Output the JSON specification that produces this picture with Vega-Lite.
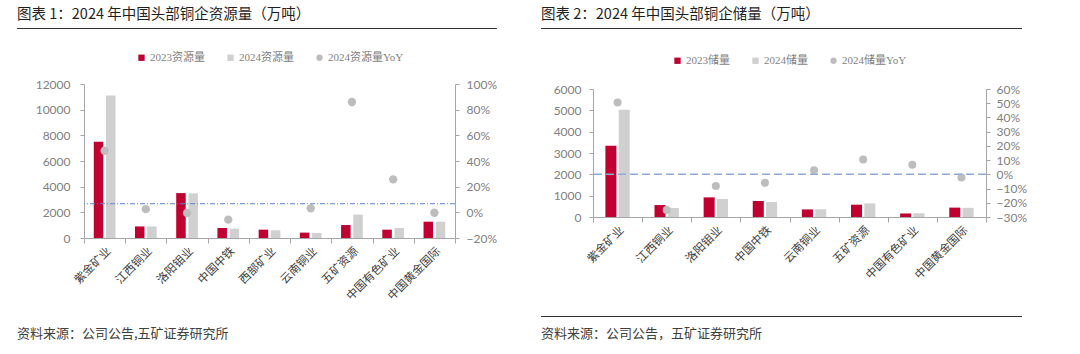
{
  "$schema": "https://vega.github.io/schema/vega-lite/v6.json",
  "background": "white",
  "padding": {"left": 17, "top": 7, "right": 0, "bottom": 0},
  "datasets": {
    "resources": [
      {"公司": "紫金矿业", "系列": "2023资源量", "值": 7500},
      {"公司": "紫金矿业", "系列": "2024资源量", "值": 11100},
      {"公司": "紫金矿业", "系列": "2024资源量YoY", "值": 0.48},
      {"公司": "江西铜业", "系列": "2023资源量", "值": 900},
      {"公司": "江西铜业", "系列": "2024资源量", "值": 900},
      {"公司": "江西铜业", "系列": "2024资源量YoY", "值": 0.025},
      {"公司": "洛阳钼业", "系列": "2023资源量", "值": 3500},
      {"公司": "洛阳钼业", "系列": "2024资源量", "值": 3480},
      {"公司": "洛阳钼业", "系列": "2024资源量YoY", "值": -0.005},
      {"公司": "中国中铁", "系列": "2023资源量", "值": 780},
      {"公司": "中国中铁", "系列": "2024资源量", "值": 730},
      {"公司": "中国中铁", "系列": "2024资源量YoY", "值": -0.057},
      {"公司": "西部矿业", "系列": "2023资源量", "值": 650},
      {"公司": "西部矿业", "系列": "2024资源量", "值": 600},
      {"公司": "云南铜业", "系列": "2023资源量", "值": 420},
      {"公司": "云南铜业", "系列": "2024资源量", "值": 390},
      {"公司": "云南铜业", "系列": "2024资源量YoY", "值": 0.031},
      {"公司": "五矿资源", "系列": "2023资源量", "值": 1010},
      {"公司": "五矿资源", "系列": "2024资源量", "值": 1820},
      {"公司": "五矿资源", "系列": "2024资源量YoY", "值": 0.86},
      {"公司": "中国有色矿业", "系列": "2023资源量", "值": 650},
      {"公司": "中国有色矿业", "系列": "2024资源量", "值": 780},
      {"公司": "中国有色矿业", "系列": "2024资源量YoY", "值": 0.257},
      {"公司": "中国黄金国际", "系列": "2023资源量", "值": 1270},
      {"公司": "中国黄金国际", "系列": "2024资源量", "值": 1270},
      {"公司": "中国黄金国际", "系列": "2024资源量YoY", "值": -0.003}
    ],
    "reserves": [
      {"公司": "紫金矿业", "系列": "2023储量", "值": 3340},
      {"公司": "紫金矿业", "系列": "2024储量", "值": 5030},
      {"公司": "紫金矿业", "系列": "2024储量YoY", "值": 0.505},
      {"公司": "江西铜业", "系列": "2023储量", "值": 560},
      {"公司": "江西铜业", "系列": "2024储量", "值": 420},
      {"公司": "江西铜业", "系列": "2024储量YoY", "值": -0.25},
      {"公司": "洛阳钼业", "系列": "2023储量", "值": 920},
      {"公司": "洛阳钼业", "系列": "2024储量", "值": 845},
      {"公司": "洛阳钼业", "系列": "2024储量YoY", "值": -0.082},
      {"公司": "中国中铁", "系列": "2023储量", "值": 750},
      {"公司": "中国中铁", "系列": "2024储量", "值": 705},
      {"公司": "中国中铁", "系列": "2024储量YoY", "值": -0.06},
      {"公司": "云南铜业", "系列": "2023储量", "值": 355},
      {"公司": "云南铜业", "系列": "2024储量", "值": 365},
      {"公司": "云南铜业", "系列": "2024储量YoY", "值": 0.028},
      {"公司": "五矿资源", "系列": "2023储量", "值": 577},
      {"公司": "五矿资源", "系列": "2024储量", "值": 638},
      {"公司": "五矿资源", "系列": "2024储量YoY", "值": 0.105},
      {"公司": "中国有色矿业", "系列": "2023储量", "值": 165},
      {"公司": "中国有色矿业", "系列": "2024储量", "值": 176},
      {"公司": "中国有色矿业", "系列": "2024储量YoY", "值": 0.068},
      {"公司": "中国黄金国际", "系列": "2023储量", "值": 440},
      {"公司": "中国黄金国际", "系列": "2024储量", "值": 430},
      {"公司": "中国黄金国际", "系列": "2024储量YoY", "值": -0.023}
    ],
    "refLeft": [{"参考线": 0.067}],
    "refRight": [{"参考线": 0}]
  },
  "config": {
    "font": "Noto Sans CJK SC",
    "view": {"stroke": null},
    "axis": {
      "grid": false,
      "domainColor": "#A6A6A6",
      "tickColor": "#A6A6A6",
      "labelColor": "#808080",
      "labelFont": "Lato",
      "labelFontSize": 12,
      "labelOverlap": false,
      "title": null
    },
    "legend": {
      "orient": "top",
      "direction": "horizontal",
      "title": null,
      "labelFont": "'Liberation Serif', 'Noto Sans CJK SC'",
      "labelFontSize": 11,
      "labelColor": "#7F7F7F",
      "symbolSize": 40,
      "columnPadding": 20,
      "labelOffset": 3,
      "padding": 0,
      "layout": {"top": {"anchor": "middle"}}
    },
    "title": {"font": "Noto Sans CJK SC", "fontWeight": "normal"}
  },
  "spacing": 44,
  "resolve": {
    "scale": {"x": "independent", "y": "independent", "color": "independent", "shape": "independent", "xOffset": "independent"},
    "legend": {"color": "independent", "shape": "independent"}
  },
  "hconcat": [
    {
      "spacing": 18,
      "resolve": {
        "scale": {"x": "independent", "y": "independent", "color": "independent", "shape": "independent", "xOffset": "independent"},
        "legend": {"color": "independent", "shape": "independent"}
      },
      "vconcat": [
        {
          "width": 480, "height": 1,
          "data": {"values": [{}]},
          "mark": {"type": "text"},
          "encoding": {"text": {"value": ""}},
          "view": {"stroke": null, "fill": "#333333"},
          "title": {"text": "图表 1：2024 年中国头部铜企资源量（万吨）", "anchor": "start", "fontSize": 14.5, "color": "#1F1F1F", "offset": 0}
        },
        {
          "spacing": 8,
          "resolve": {
            "scale": {"x": "independent", "y": "independent", "color": "independent", "shape": "independent", "xOffset": "independent"},
            "legend": {"color": "independent", "shape": "independent"}
          },
          "vconcat": [
            {
              "spacing": 0,
              "resolve": {
                "scale": {"x": "independent", "y": "independent", "color": "independent", "shape": "independent", "xOffset": "independent"},
                "legend": {"color": "independent", "shape": "independent"}
              },
              "hconcat": [
                {
                  "width": 1, "height": 1,
                  "data": {"values": [{}]},
                  "mark": {"type": "text"},
                  "encoding": {"text": {"value": ""}}
                },
                {
                  "width": 371, "height": 154,
                  "data": {"name": "resources"},
                  "layer": [
                    {
                      "transform": [{"filter": "datum['系列'] != '2024资源量YoY'"}],
                      "mark": {"type": "bar"},
                      "encoding": {
                        "x": {"field": "公司", "type": "nominal", "sort": null,
                          "scale": {"paddingInner": 0, "paddingOuter": 0},
                          "axis": {"labelAngle": -45, "tickBand": "extent", "tickSize": 5, "labelColor": "#404040", "labelFont": "Noto Sans CJK SC", "labelFontSize": 11.5, "labelPadding": 2}},
                        "xOffset": {"field": "系列", "type": "nominal", "sort": null, "scale": {"paddingInner": 0.22, "paddingOuter": 0.8}},
                        "y": {"field": "值", "type": "quantitative", "scale": {"domain": [0, 12000]},
                          "axis": {"values": [0, 2000, 4000, 6000, 8000, 10000, 12000], "format": "d", "tickSize": 4, "labelPadding": 10, "minExtent": 66, "labelOverlap": false}},
                        "color": {"field": "系列", "type": "nominal", "scale": {"domain": ["2023资源量", "2024资源量", "2024资源量YoY"], "range": ["#C00030", "#D0D0D0", "#BDBDBD"]}, "legend": {"offset": 21}}
                      }
                    },
                    {
                      "transform": [{"filter": "datum['系列'] == '2024资源量YoY'"}],
                      "mark": {"type": "point", "filled": true, "size": 70, "opacity": 1},
                      "encoding": {
                        "x": {"field": "公司", "type": "nominal", "sort": null},
                        "y": {"field": "值", "type": "quantitative", "scale": {"domain": [-0.2, 1.0]},
                          "axis": {"orient": "right", "format": ".0%", "values": [-0.2, 0, 0.2, 0.4, 0.6, 0.8, 1.0], "tickSize": 4, "labelPadding": 7, "minExtent": 42, "labelOverlap": false}},
                        "color": {"field": "系列", "type": "nominal", "scale": {"domain": ["2023资源量", "2024资源量", "2024资源量YoY"], "range": ["#C00030", "#D0D0D0", "#BDBDBD"]}, "legend": {"offset": 21}},
                        "shape": {"field": "系列", "type": "nominal", "scale": {"domain": ["2023资源量", "2024资源量", "2024资源量YoY"], "range": ["square", "square", "circle"]}, "legend": {"offset": 21}}
                      }
                    },
                    {
                      "data": {"name": "refLeft"},
                      "mark": {"type": "rule", "color": "#5B86D6", "strokeWidth": 1, "strokeDash": [5, 2, 1, 2]},
                      "encoding": {"y": {"field": "参考线", "type": "quantitative", "scale": {"domain": [-0.2, 1.0]}, "axis": null}}
                    }
                  ],
                  "resolve": {"scale": {"y": "independent"}}
                }
              ]
            },
            {
              "width": 480, "height": 1,
              "data": {"values": [{}]},
              "mark": {"type": "text"},
              "encoding": {"text": {"value": ""}},
              "view": {"stroke": null},
              "title": {"text": "资料来源：公司公告,五矿证券研究所", "orient": "bottom", "anchor": "start", "fontSize": 13, "color": "#404040", "offset": 6}
            }
          ]
        }
      ]
    },
    {
      "spacing": 21,
      "resolve": {
        "scale": {"x": "independent", "y": "independent", "color": "independent", "shape": "independent", "xOffset": "independent"},
        "legend": {"color": "independent", "shape": "independent"}
      },
      "vconcat": [
        {
          "width": 481, "height": 1,
          "data": {"values": [{}]},
          "mark": {"type": "text"},
          "encoding": {"text": {"value": ""}},
          "view": {"stroke": null, "fill": "#333333"},
          "title": {"text": "图表 2：2024 年中国头部铜企储量（万吨）", "anchor": "start", "fontSize": 14.5, "color": "#1F1F1F", "offset": 0}
        },
        {
          "spacing": 29,
          "resolve": {
            "scale": {"x": "independent", "y": "independent", "color": "independent", "shape": "independent", "xOffset": "independent"},
            "legend": {"color": "independent", "shape": "independent"}
          },
          "vconcat": [
            {
              "spacing": 0,
              "resolve": {
                "scale": {"x": "independent", "y": "independent", "color": "independent", "shape": "independent", "xOffset": "independent"},
                "legend": {"color": "independent", "shape": "independent"}
              },
              "hconcat": [
                {
                  "width": 1, "height": 1,
                  "data": {"values": [{}]},
                  "mark": {"type": "text"},
                  "encoding": {"text": {"value": ""}}
                },
                {
                  "width": 393, "height": 128,
                  "data": {"name": "reserves"},
                  "layer": [
                    {
                      "transform": [{"filter": "datum['系列'] != '2024储量YoY'"}],
                      "mark": {"type": "bar"},
                      "encoding": {
                        "x": {"field": "公司", "type": "nominal", "sort": null,
                          "scale": {"paddingInner": 0, "paddingOuter": 0},
                          "axis": {"labelAngle": -45, "tickBand": "extent", "tickSize": 5, "labelColor": "#404040", "labelFont": "Noto Sans CJK SC", "labelFontSize": 11.5, "labelPadding": 2}},
                        "xOffset": {"field": "系列", "type": "nominal", "sort": null, "scale": {"paddingInner": 0.17, "paddingOuter": 0.93}},
                        "y": {"field": "值", "type": "quantitative", "scale": {"domain": [0, 6000]},
                          "axis": {"values": [0, 1000, 2000, 3000, 4000, 5000, 6000], "format": "d", "tickSize": 4, "labelPadding": 8, "minExtent": 51, "labelOverlap": false}},
                        "color": {"field": "系列", "type": "nominal", "scale": {"domain": ["2023储量", "2024储量", "2024储量YoY"], "range": ["#C00030", "#D0D0D0", "#BDBDBD"]}, "legend": {"offset": 23}}
                      }
                    },
                    {
                      "transform": [{"filter": "datum['系列'] == '2024储量YoY'"}],
                      "mark": {"type": "point", "filled": true, "size": 64, "opacity": 1},
                      "encoding": {
                        "x": {"field": "公司", "type": "nominal", "sort": null},
                        "y": {"field": "值", "type": "quantitative", "scale": {"domain": [-0.3, 0.6]},
                          "axis": {"orient": "right", "format": ".0%", "values": [-0.3, -0.2, -0.1, 0, 0.1, 0.2, 0.3, 0.4, 0.5, 0.6], "tickSize": 4, "labelPadding": 6, "labelOverlap": false}},
                        "color": {"field": "系列", "type": "nominal", "scale": {"domain": ["2023储量", "2024储量", "2024储量YoY"], "range": ["#C00030", "#D0D0D0", "#BDBDBD"]}, "legend": {"offset": 23}},
                        "shape": {"field": "系列", "type": "nominal", "scale": {"domain": ["2023储量", "2024储量", "2024储量YoY"], "range": ["square", "square", "circle"]}, "legend": {"offset": 23}}
                      }
                    },
                    {
                      "data": {"name": "refRight"},
                      "mark": {"type": "rule", "color": "#8EA9DB", "strokeWidth": 1.5, "strokeDash": [8, 4]},
                      "encoding": {"y": {"field": "参考线", "type": "quantitative", "scale": {"domain": [-0.3, 0.6]}, "axis": null}}
                    }
                  ],
                  "resolve": {"scale": {"y": "independent"}}
                }
              ]
            },
            {
              "width": 481, "height": 1,
              "data": {"values": [{}]},
              "mark": {"type": "text"},
              "encoding": {"text": {"value": ""}},
              "view": {"stroke": null, "fill": "#333333"},
              "title": {"text": "资料来源：公司公告，五矿证券研究所", "orient": "bottom", "anchor": "start", "fontSize": 13, "color": "#404040", "offset": 6}
            }
          ]
        }
      ]
    }
  ]
}
